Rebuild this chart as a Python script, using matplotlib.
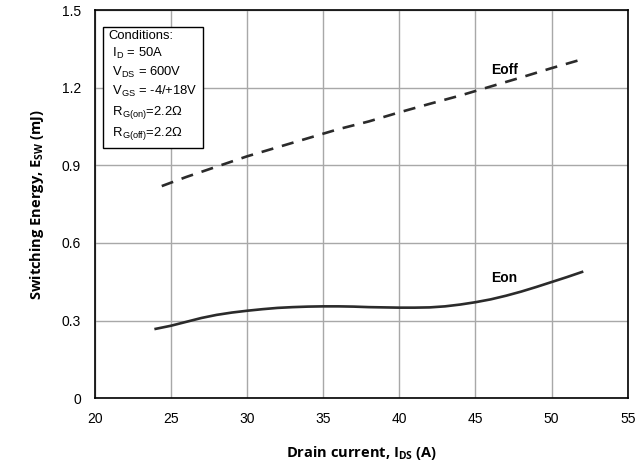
import matplotlib.pyplot as plt

plt.rcParams['font.family'] = ['Liberation Sans', 'DejaVu Sans']
plt.rcParams['mathtext.fontset'] = 'custom'
plt.rcParams['mathtext.rm'] = 'Liberation Sans'

# values
ids_on = [24, 25, 26, 27, 28, 29, 30, 31, 32, 33, 34, 35, 36, 37, 38, 39, 40,
          41, 42, 43, 44, 45, 46, 47, 48, 49, 50, 51, 52]
eon = [0.268, 0.280, 0.295, 0.310, 0.322, 0.331, 0.338, 0.344, 0.349, 0.352,
       0.354, 0.355, 0.355, 0.354, 0.352, 0.351, 0.350, 0.350, 0.351, 0.355,
       0.362, 0.371, 0.382, 0.396, 0.412, 0.430, 0.449, 0.468, 0.488]

ids_off = [24.4, 26, 28, 30, 32, 34, 36, 38, 40, 42, 44, 46, 48, 50, 52]
eoff = [0.82, 0.855, 0.895, 0.935, 0.97, 1.005, 1.04, 1.07, 1.105, 1.138,
        1.17, 1.205, 1.24, 1.276, 1.31]

xticks = [20, 25, 30, 35, 40, 45, 50, 55]
yticks = [0, 0.3, 0.6, 0.9, 1.2, 1.5]
ytick_labels = ['0', '0.3', '0.6', '0.9', '1.2', '1.5']

fig = plt.figure(figsize=(6.36, 4.63), dpi=100)
ax = fig.add_axes([0.149, 0.140, 0.838, 0.838])

ax.plot(ids_on, eon, color='#2b2b2b', lw=1.9)
ax.plot(ids_off, eoff, color='#2b2b2b', lw=1.9, dashes=(4.6, 3.4))

ax.set_xlim(20, 55)
ax.set_ylim(0, 1.5)
ax.set_xticks(xticks)
ax.set_yticks(yticks)
ax.set_yticklabels(ytick_labels)
ax.tick_params(length=0, labelsize=10, pad=10)
ax.grid(True, color='#a8a8a8', lw=1)
for s in ax.spines.values():
    s.set_color('black')
    s.set_linewidth(1.2)

ax.text(46.9, 1.268, 'Eoff', fontsize=10, fontweight='bold',
        ha='center', va='center')
ax.text(46.9, 0.464, 'Eon', fontsize=10, fontweight='bold',
        ha='center', va='center')

cond = ('Conditions:\n'
        r' I$_\mathregular{D}$ = 50A' '\n'
        r' V$_\mathregular{DS}$ = 600V' '\n'
        r' V$_\mathregular{GS}$ = -4/+18V' '\n'
        r' R$_\mathregular{G(on)}$=2.2Ω' '\n'
        r' R$_\mathregular{G(off)}$=2.2Ω')
ax.text(0.026, 0.95, cond, transform=ax.transAxes, fontsize=9.4, va='top',
        linespacing=1.38,
        bbox=dict(boxstyle='square,pad=0.45', fc='white', ec='black', lw=1))

ax.set_xlabel(r'Drain current, I$_\mathregular{DS}$ (A)', fontsize=10.5,
              fontweight='bold', family=['Open Sans', 'DejaVu Sans'], labelpad=13)
ax.set_ylabel(r'Switching Energy, E$_\mathregular{SW}$ (mJ)', fontsize=10.5,
              fontweight='bold', family=['Open Sans', 'DejaVu Sans'], labelpad=11)

fig.savefig('out.png', dpi=100)
